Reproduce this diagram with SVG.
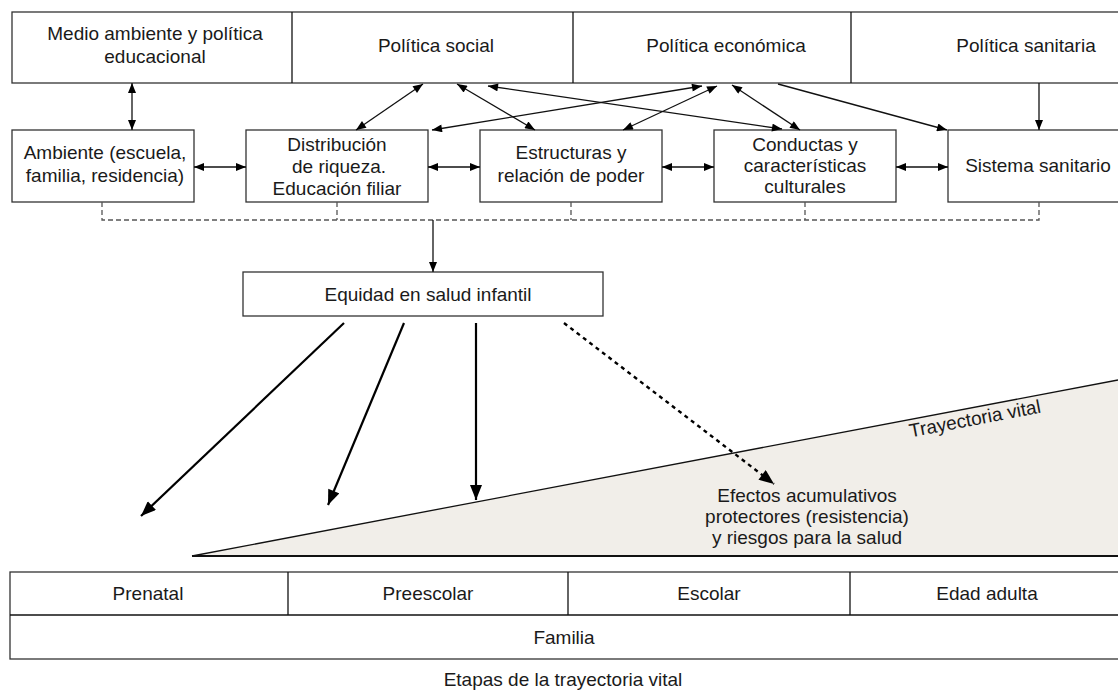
<svg xmlns="http://www.w3.org/2000/svg" width="1118" height="690" viewBox="0 0 1118 690">
<defs>
<style>
.box{fill:#fff;stroke:#333;stroke-width:1.3}
.t{font-family:"Liberation Sans",Arial,sans-serif;font-size:19px;fill:#1a1a1a;text-anchor:middle}
.c{stroke:#111;stroke-width:1.3;fill:none}
.cb{stroke:#000;stroke-width:2.2;fill:none}
.dash{stroke:#555;stroke-width:1.3;stroke-dasharray:5 3;fill:none}
.dot{stroke:#000;stroke-width:2.4;stroke-dasharray:4 4;fill:none}
</style>
<marker id="ah" viewBox="0 0 10 8" refX="10" refY="4" markerWidth="11" markerHeight="8" markerUnits="userSpaceOnUse" orient="auto-start-reverse">
<path d="M0,0 L10,4 L0,8 z" fill="#000"/>
</marker>
<marker id="ahb" viewBox="0 0 10 8" refX="10" refY="4" markerWidth="16" markerHeight="12" markerUnits="userSpaceOnUse" orient="auto">
<path d="M0,0 L10,4 L0,8 z" fill="#000"/>
</marker>
</defs>
<rect width="1118" height="690" fill="#fff"/>

<g id="politicas">
<rect class="box" x="12" y="12" width="1115" height="71"/>
<line class="c" x1="292" y1="12" x2="292" y2="83"/>
<line class="c" x1="573" y1="12" x2="573" y2="83"/>
<line class="c" x1="851" y1="12" x2="851" y2="83"/>
<text class="t" x="155" y="40">Medio ambiente y política</text>
<text class="t" x="155" y="63">educacional</text>
<text class="t" x="436" y="52">Política social</text>
<text class="t" x="726" y="52">Política económica</text>
<text class="t" x="1026" y="52">Política sanitaria</text>
</g>

<g id="ambiente">
<rect class="box" x="12" y="130" width="182" height="72"/>
<text class="t" x="105" y="159">Ambiente (escuela,</text>
<text class="t" x="105" y="182">familia, residencia)</text>
</g>
<g id="distribucion">
<rect class="box" x="246" y="130" width="182" height="72"/>
<text class="t" x="337" y="151">Distribución</text>
<text class="t" x="339" y="173">de riqueza.</text>
<text class="t" x="337" y="195">Educación filiar</text>
</g>
<g id="estructuras">
<rect class="box" x="480" y="130" width="182" height="72"/>
<text class="t" x="571" y="159">Estructuras y</text>
<text class="t" x="571" y="182">relación de poder</text>
</g>
<g id="conductas">
<rect class="box" x="714" y="130" width="182" height="72"/>
<text class="t" x="805" y="151">Conductas y</text>
<text class="t" x="805" y="172">características</text>
<text class="t" x="805" y="193">culturales</text>
</g>
<g id="sistema">
<rect class="box" x="948" y="130" width="182" height="72"/>
<text class="t" x="1038" y="172">Sistema sanitario</text>
</g>

<g id="equidad">
<rect class="box" x="243" y="272" width="360" height="44"/>
<text class="t" x="428" y="301">Equidad en salud infantil</text>
</g>

<g id="trayectoria">
<polygon points="192,556 1118,380 1118,556" fill="#f1eee9" stroke="none"/>
<line x1="192" y1="556" x2="1118" y2="380" stroke="#111" stroke-width="1.3"/>
<line x1="192" y1="556" x2="1118" y2="556" stroke="#111" stroke-width="1.8"/>
<text class="t" transform="translate(975,419) rotate(-10.8)" x="0" y="6">Trayectoria vital</text>
<text class="t" x="807" y="502">Efectos acumulativos</text>
<text class="t" x="807" y="523">protectores (resistencia)</text>
<text class="t" x="807" y="544">y riesgos para la salud</text>
</g>

<g id="etapas">
<rect class="box" x="10" y="572" width="1115" height="87"/>
<line class="c" x1="10" y1="615" x2="1125" y2="615"/>
<line class="c" x1="288" y1="572" x2="288" y2="615"/>
<line class="c" x1="568" y1="572" x2="568" y2="615"/>
<line class="c" x1="850" y1="572" x2="850" y2="615"/>
<text class="t" x="148" y="600">Prenatal</text>
<text class="t" x="428" y="600">Preescolar</text>
<text class="t" x="709" y="600">Escolar</text>
<text class="t" x="987" y="600">Edad adulta</text>
<text class="t" x="564" y="644">Familia</text>
<text class="t" x="563" y="686">Etapas de la trayectoria vital</text>
</g>

<g id="connectors">
<path class="dash" d="M102,202 V220 H1039 V202 M337,202 V220 M571,202 V220 M805,202 V220"/>
<line class="c" x1="132" y1="83" x2="132" y2="130" marker-start="url(#ah)" marker-end="url(#ah)"/>
<line class="c" x1="194" y1="167" x2="246" y2="167" marker-start="url(#ah)" marker-end="url(#ah)"/>
<line class="c" x1="428" y1="167" x2="480" y2="167" marker-start="url(#ah)" marker-end="url(#ah)"/>
<line class="c" x1="662" y1="167" x2="714" y2="167" marker-start="url(#ah)" marker-end="url(#ah)"/>
<line class="c" x1="896" y1="167" x2="948" y2="167" marker-start="url(#ah)" marker-end="url(#ah)"/>
<line class="c" x1="423" y1="84" x2="356" y2="130" marker-start="url(#ah)" marker-end="url(#ah)"/>
<line class="c" x1="457" y1="84" x2="535" y2="130" marker-start="url(#ah)" marker-end="url(#ah)"/>
<line class="c" x1="488" y1="86" x2="782" y2="129" marker-start="url(#ah)" marker-end="url(#ah)"/>
<line class="c" x1="432" y1="130" x2="702" y2="86" marker-start="url(#ah)" marker-end="url(#ah)"/>
<line class="c" x1="717" y1="86" x2="623" y2="130" marker-start="url(#ah)" marker-end="url(#ah)"/>
<line class="c" x1="732" y1="85" x2="800" y2="130" marker-start="url(#ah)" marker-end="url(#ah)"/>
<line class="c" x1="778" y1="84" x2="947" y2="130" marker-end="url(#ah)"/>
<line class="c" x1="1039" y1="83" x2="1039" y2="130" marker-end="url(#ah)"/>
<line class="c" x1="433" y1="220" x2="433" y2="272" marker-end="url(#ah)"/>
<line class="cb" x1="344" y1="323" x2="141" y2="516" marker-end="url(#ahb)"/>
<line class="cb" x1="404" y1="323" x2="328" y2="505" marker-end="url(#ahb)"/>
<line class="cb" x1="476" y1="323" x2="476" y2="500" marker-end="url(#ahb)"/>
<line class="dot" x1="564" y1="323" x2="774" y2="484" marker-end="url(#ahb)"/>
</g>
</svg>
